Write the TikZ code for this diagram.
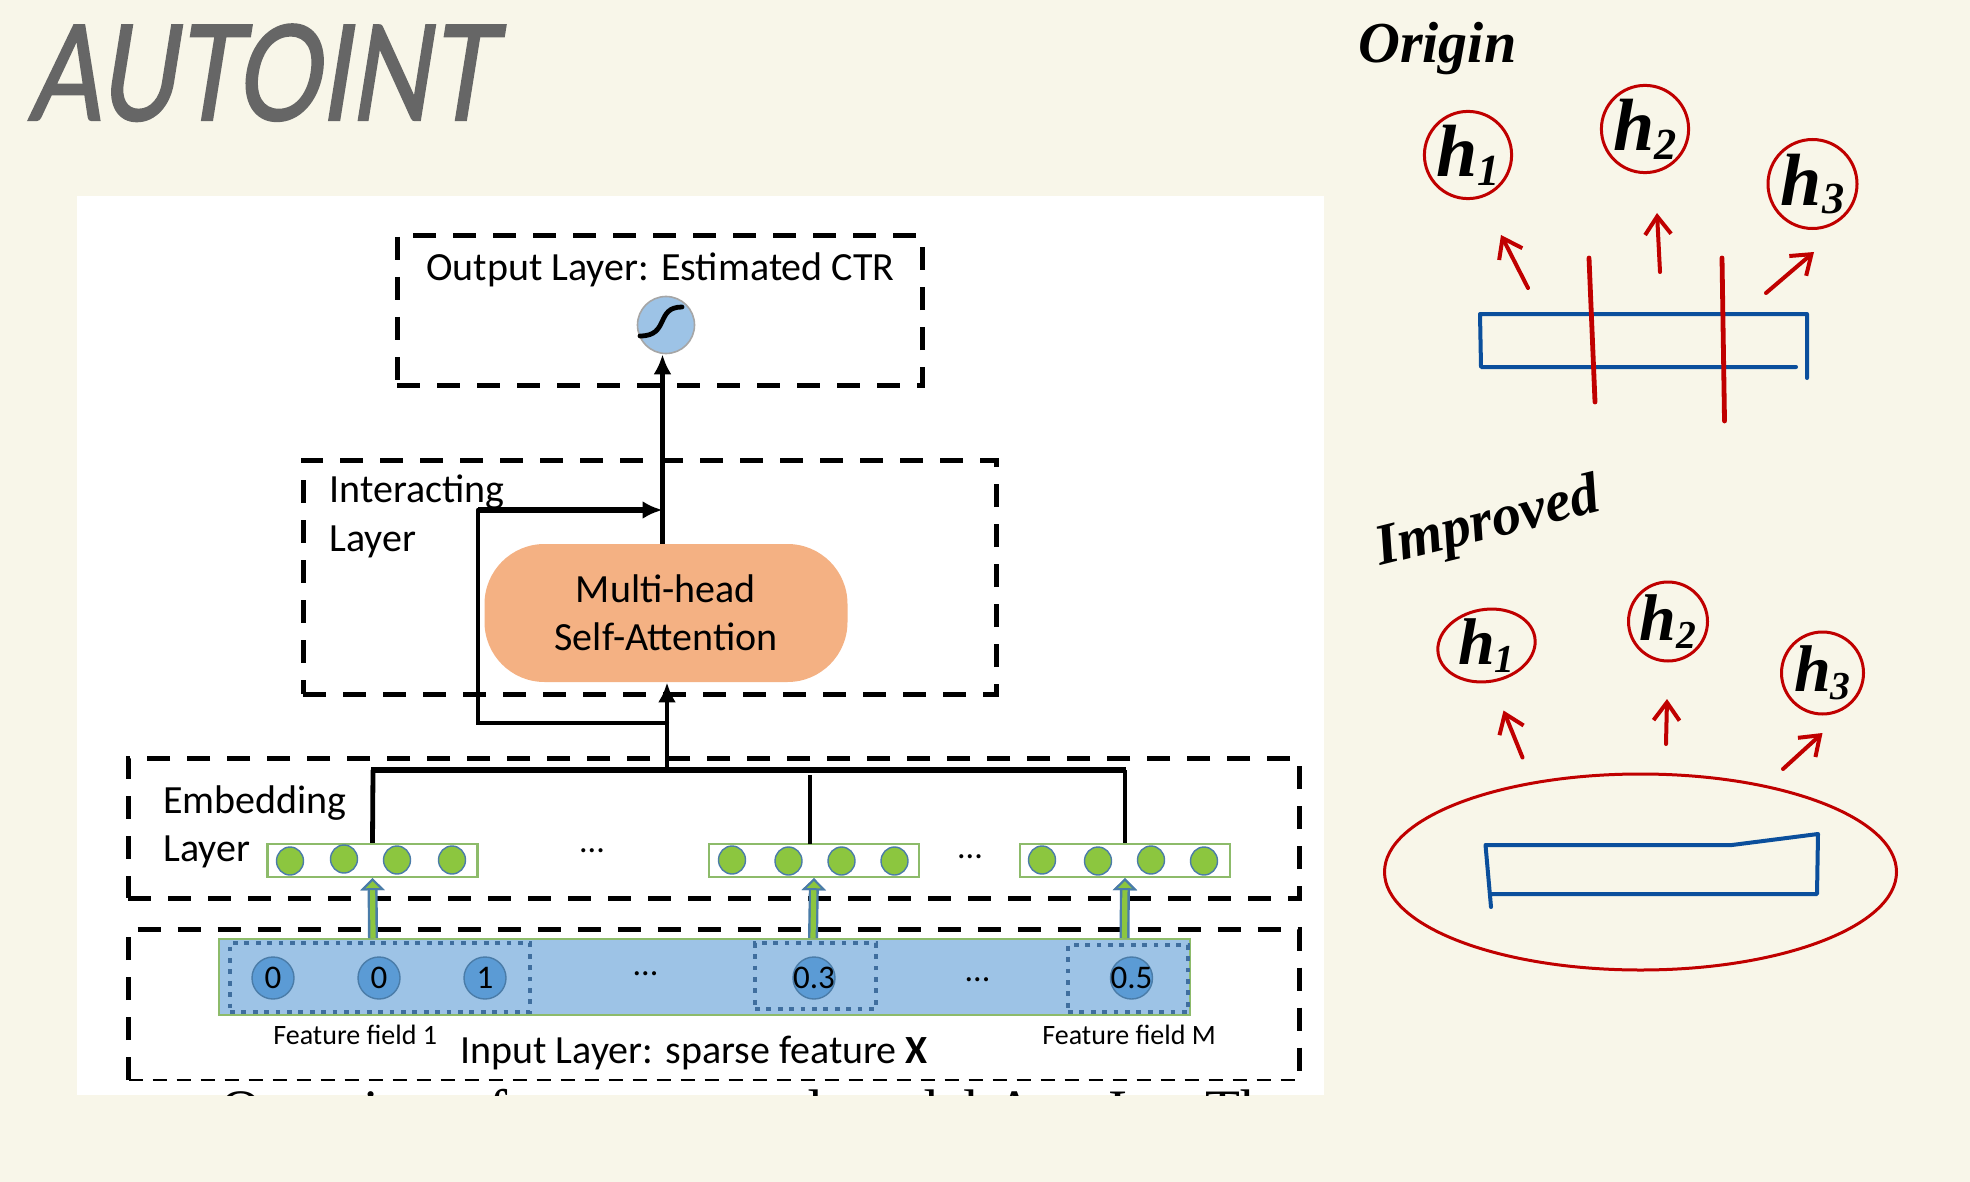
\documentclass[tikz,border=0pt]{standalone}
\usepackage{fontspec}
\usepackage{xcolor}
\setmainfont{Carlito}
\newfontfamily\handtitle[FakeSlant=0.2,FakeBold=1.8]{Lato}
\newfontfamily\handnote{Liberation Serif}
\newfontfamily\captionfont{Liberation Serif}
\usetikzlibrary{
    arrows.meta,
    positioning,
    shapes.geometric
}
\definecolor{paper}{HTML}{F8F6E9}
\definecolor{inkred}{HTML}{C00000}
\definecolor{inkblue}{HTML}{0B4F9C}
\definecolor{inkgray}{HTML}{666666}
\definecolor{barblue}{HTML}{9DC3E6}
\definecolor{barborder}{HTML}{8DBB6A}
\definecolor{cellgreen}{HTML}{8CC63F}
\definecolor{cellblue}{HTML}{5B9BD5}
\definecolor{celledge}{HTML}{4A7CA8}
\definecolor{dotblue}{HTML}{3F6E9E}
\definecolor{msaorange}{HTML}{F4B183}
% hand-written h with its index
\newcommand{\hlabel}[1]{h\raisebox{-0.12em}{\scalebox{0.6}{#1}}}

\begin{document}
\begin{tikzpicture}[
    x=0.5pt,
    y=-0.5pt,
    font=\fontsize{16}{18}\selectfont,
    layerbox/.style={
        rectangle,
        draw=black,
        line width=2.5pt,
        dash pattern=on 11.5pt off 8.5pt,
        inner sep=0pt
    },
    layertext/.style={
        font=\fontsize{20}{22}\selectfont,
        anchor=base west,
        inner sep=0pt
    },
    msabox/.style={
        rectangle,
        rounded corners=30pt,
        fill=msaorange,
        align=center,
        minimum width=181.5pt,
        minimum height=69pt,
        font=\fontsize{20}{24}\selectfont
    },
    vecbox/.style={
        rectangle,
        draw=barborder,
        line width=1.2pt,
        fill=white,
        minimum width=105pt,
        minimum height=16.5pt,
        inner sep=0pt
    },
    cellnode/.style={
        ellipse,
        draw=celledge,
        line width=0.7pt,
        fill=cellgreen,
        minimum width=13.5pt,
        minimum height=14pt,
        inner sep=0pt
    },
    valnode/.style={
        circle,
        draw=celledge,
        line width=0.7pt,
        fill=cellblue,
        minimum size=21pt,
        inner sep=-2.5pt,
        font=\fontsize{16.5}{18}\selectfont
    },
    fieldbox/.style={
        rectangle,
        draw=dotblue,
        line width=2.2pt,
        dash pattern=on 2.4pt off 3.3pt,
        inner sep=0pt
    },
    dots/.style={
        font=\fontsize{17}{18}\selectfont,
        inner sep=0pt
    },
    smalltext/.style={
        font=\fontsize{14}{16}\selectfont,
        anchor=base west,
        inner sep=0pt
    },
    arrow/.style={-{Latex[length=10pt,width=9pt]}, line width=2.4pt, black},
    busline/.style={line width=2.4pt, black},
    fieldarrow/.style={
        -{Triangle[length=6pt,width=12pt,color=celledge,fill=cellgreen,line width=1pt]},
        line width=2.6pt,
        cellgreen,
        preaction={draw=celledge,line width=5pt}
    },
    redcircle/.style={
        circle,
        draw=inkred,
        line width=1.5pt,
        inner sep=0pt,
        font=\handnote\itshape\bfseries\fontsize{37}{38}\selectfont
    },
    redarrow/.style={
        -{Straight Barb[length=9pt,width=13pt,line width=2pt]},
        line width=2pt,
        inkred,
        line cap=round
    },
    cutline/.style={line width=2.4pt, inkred, line cap=round},
    inkbox/.style={line width=2pt, inkblue, line cap=round, line join=round},
    handtext/.style={
        font=\handnote\itshape\bfseries\fontsize{29}{30}\selectfont,
        anchor=base west,
        inner sep=0pt
    }
]

\useasboundingbox (0,0) rectangle (1970,1182);
\fill[paper] (0,0) rectangle (1970,1182);

% ===== TITLE =====
\node[font=\handtitle\fontsize{66}{68}\selectfont, text=inkgray, anchor=base west, inner sep=0pt, xscale=0.8] (title) at (28,120) {AUTOINT};

% ===== PASTED PANEL =====
\fill[white] (77,196) rectangle (1324,1095);
\begin{scope}
\clip (77,196) rectangle (1324,1095);
\node[font=\captionfont\fontsize{28.6}{31}\selectfont, anchor=base west, inner sep=0pt] (figcaption) at (220,1129) {Overview of our proposed model AutoInt. The};
\end{scope}

% Output layer
\node[layerbox, minimum width=262.5pt, minimum height=74.5pt] (outlayer) at (659.5,310.5) {};
\node[layertext] (outlabel) at (426,281) {Output Layer: Estimated CTR};
\node[circle, draw=black!35, line width=0.8pt, fill=barblue, minimum size=28.5pt, inner sep=0pt] (sigmoid) at (666,325) {};
\draw[line width=2.4pt, black, line cap=round] (sigmoid.center) ++(-26,11) .. controls +(30,0) and +(-27,0) .. ++(42,-29);

% Interacting layer
\node[layerbox, minimum width=346.5pt, minimum height=117pt] (intlayer) at (649.5,577) {};
\node[layertext] (intlabel) at (329,502) {Interacting};
\node[layertext] (intlabelb) at (329,551) {Layer};
\node[msabox] (msa) at (666,613) {Multi-head\\Self-Attention};

% Embedding layer
\node[layerbox, minimum width=585.5pt, minimum height=70pt] (emblayer) at (713.5,828) {};
\node[layertext] (emblabel) at (163,813) {Embedding};
\node[layertext] (emblabelb) at (163,861) {Layer};

\node[vecbox] (veca) at (372.5,860.5) {};
\node[vecbox] (vecb) at (814,860.5) {};
\node[vecbox] (vecc) at (1125,860.5) {};

\node[cellnode] (cellaa) at (290,861) {};
\node[cellnode] (cellab) at (344,859) {};
\node[cellnode] (cellac) at (397,860) {};
\node[cellnode] (cellad) at (452,860) {};
\node[cellnode] (cellba) at (732,860) {};
\node[cellnode] (cellbb) at (788.5,861) {};
\node[cellnode] (cellbc) at (841.5,861) {};
\node[cellnode] (cellbd) at (894.5,861) {};
\node[cellnode] (cellca) at (1042,860) {};
\node[cellnode] (cellcb) at (1098,861) {};
\node[cellnode] (cellcc) at (1151,860) {};
\node[cellnode] (cellcd) at (1204,861) {};

\node[dots] (dotsa) at (592,851) {...};
\node[dots] (dotsb) at (970,857) {...};

% Input layer
\coordinate (inNW) at (128.5,929);
\coordinate (inNE) at (1299,929);
\coordinate (inSW) at (128.5,1080);
\coordinate (inSE) at (1299,1080);
\draw[line width=2.5pt, dash pattern=on 11.5pt off 8.5pt] (inSW) -- (inNW) -- (inNE) -- (inSE);
\draw[line width=1.4pt, dash pattern=on 7pt off 5pt] (inSW) -- (inSE);

\node[rectangle, draw=barborder, line width=1.4pt, fill=barblue, minimum width=485.5pt, minimum height=38pt, inner sep=0pt] (bar) at (704.5,977) {};
\node[fieldbox, minimum width=150pt, minimum height=34.5pt] (fielda) at (380,977.5) {};
\node[fieldbox, minimum width=60.5pt, minimum height=33pt] (fieldb) at (815.5,976) {};
\node[fieldbox, minimum width=60pt, minimum height=33.5pt] (fieldc) at (1128,978.5) {};

\node[valnode] (vala) at (273,978) {0};
\node[valnode] (valb) at (379,978) {0};
\node[valnode] (valc) at (485,978) {1};
\node[valnode] (vald) at (814,978) {0.3};
\node[valnode] (vale) at (1131.5,978) {0.5};

\node[dots] (dotsc) at (645.5,974) {...};
\node[dots] (dotsd) at (977.5,980) {...};

\node[smalltext] (fielddesca) at (273,1044) {Feature field 1};
\node[smalltext] (fielddescb) at (1042,1044) {Feature field M};
\node[layertext] (inlabel) at (460,1063) {Input Layer: sparse feature \textbf{X}};

% ===== CONNECTIONS =====
\draw[fieldarrow] (373,938) -- (veca.south);
\draw[fieldarrow] (813,938) -- (vecb.south);
\draw[fieldarrow] (1124.5,938) -- (vecc.south);

\coordinate (busL) at (371,770);
\coordinate (busR) at (1126,770);
\coordinate (busM) at (667,770);
\coordinate (skip) at (667,723);
\coordinate (skipA) at (478,723);
\coordinate (skipB) at (478,510);
\coordinate (merge) at (662.5,510);

\draw[line width=3.2pt] (busL) -- (busR);
\draw[busline] (373,770) -- (veca.north);
\draw[busline] (810,775) -- (810,844);
\draw[busline] (1125,770) -- (vecc.north);
\draw[arrow] (busM) -- (msa.south -| busM);
\draw[line width=2.1pt, line cap=round] (skip) -- (skipA) -- (skipB);
\draw[arrow, line width=2.6pt] (skipB) -- (merge);
\draw[arrow] (msa.north -| merge) -- (sigmoid.south -| merge);

% ===== ORIGIN SKETCH =====
\node[handtext] (origin) at (1358,63) {Origin};

\node[redcircle, minimum size=43.5pt] (ha) at (1468,155) {\hlabel{1}};
\node[redcircle, minimum size=43.5pt] (hb) at (1645,129) {\hlabel{2}};
\node[redcircle, minimum size=44.5pt] (hc) at (1812.5,184) {\hlabel{3}};

\coordinate (taila) at (1528,288);
\coordinate (tipa) at (1501,235);
\coordinate (tailb) at (1660,272);
\coordinate (tipb) at (1657,213);
\coordinate (tailc) at (1766,293);
\coordinate (tipc) at (1814,252);
\draw[redarrow] (taila) -- (tipa);
\draw[redarrow] (tailb) -- (tipb);
\draw[redarrow] (tailc) -- (tipc);

\coordinate (boxa) at (1796,367);
\coordinate (boxb) at (1481,367);
\coordinate (boxc) at (1480,314);
\coordinate (boxd) at (1807,314);
\coordinate (boxe) at (1807,378);
\draw[inkbox] (boxa) -- (boxb) -- (boxc) -- (boxd) -- (boxe);

\coordinate (cuta) at (1589,258);
\coordinate (cutb) at (1595,402);
\coordinate (cutc) at (1722,258);
\coordinate (cutd) at (1724.5,421);
\draw[cutline] (cuta) -- (cutb);
\draw[cutline] (cutc) -- (cutd);

% ===== IMPROVED SKETCH =====
\node[handtext, rotate=14] (improved) at (1380,566) {Improved};

\node[redcircle, ellipse, rotate=10, minimum width=49pt, minimum height=36pt] (ia) at (1486.5,645.5) {};
\node[font=\handnote\itshape\bfseries\fontsize{33}{34}\selectfont, inner sep=0pt] (ialabel) at (ia) {\hlabel{1}};
\node[redcircle, minimum size=39.5pt, font=\handnote\itshape\bfseries\fontsize{33}{34}\selectfont] (ib) at (1668,621.5) {\hlabel{2}};
\node[redcircle, minimum size=41pt, font=\handnote\itshape\bfseries\fontsize{33}{34}\selectfont] (ic) at (1822.5,673) {\hlabel{3}};

\coordinate (tailia) at (1522.5,757.5);
\coordinate (tipia) at (1503.5,710.5);
\coordinate (tailib) at (1666,744);
\coordinate (tipib) at (1667,699);
\coordinate (tailic) at (1783,769);
\coordinate (tipic) at (1822.5,733);
\draw[redarrow] (tailia) -- (tipia);
\draw[redarrow] (tailib) -- (tipib);
\draw[redarrow] (tailic) -- (tipic);

\node[ellipse, draw=inkred, line width=1.5pt, minimum width=256pt, minimum height=98pt, inner sep=0pt] (bigoval) at (1640.5,872) {};

\coordinate (ovala) at (1491,907);
\coordinate (ovalb) at (1485.5,845);
\coordinate (ovalc) at (1732,845);
\coordinate (ovald) at (1818,834);
\coordinate (ovale) at (1817,894);
\coordinate (ovalf) at (1491,894);
\draw[inkbox] (ovala) -- (ovalb) -- (ovalc) -- (ovald) -- (ovale) -- (ovalf);

\end{tikzpicture}
\end{document}
